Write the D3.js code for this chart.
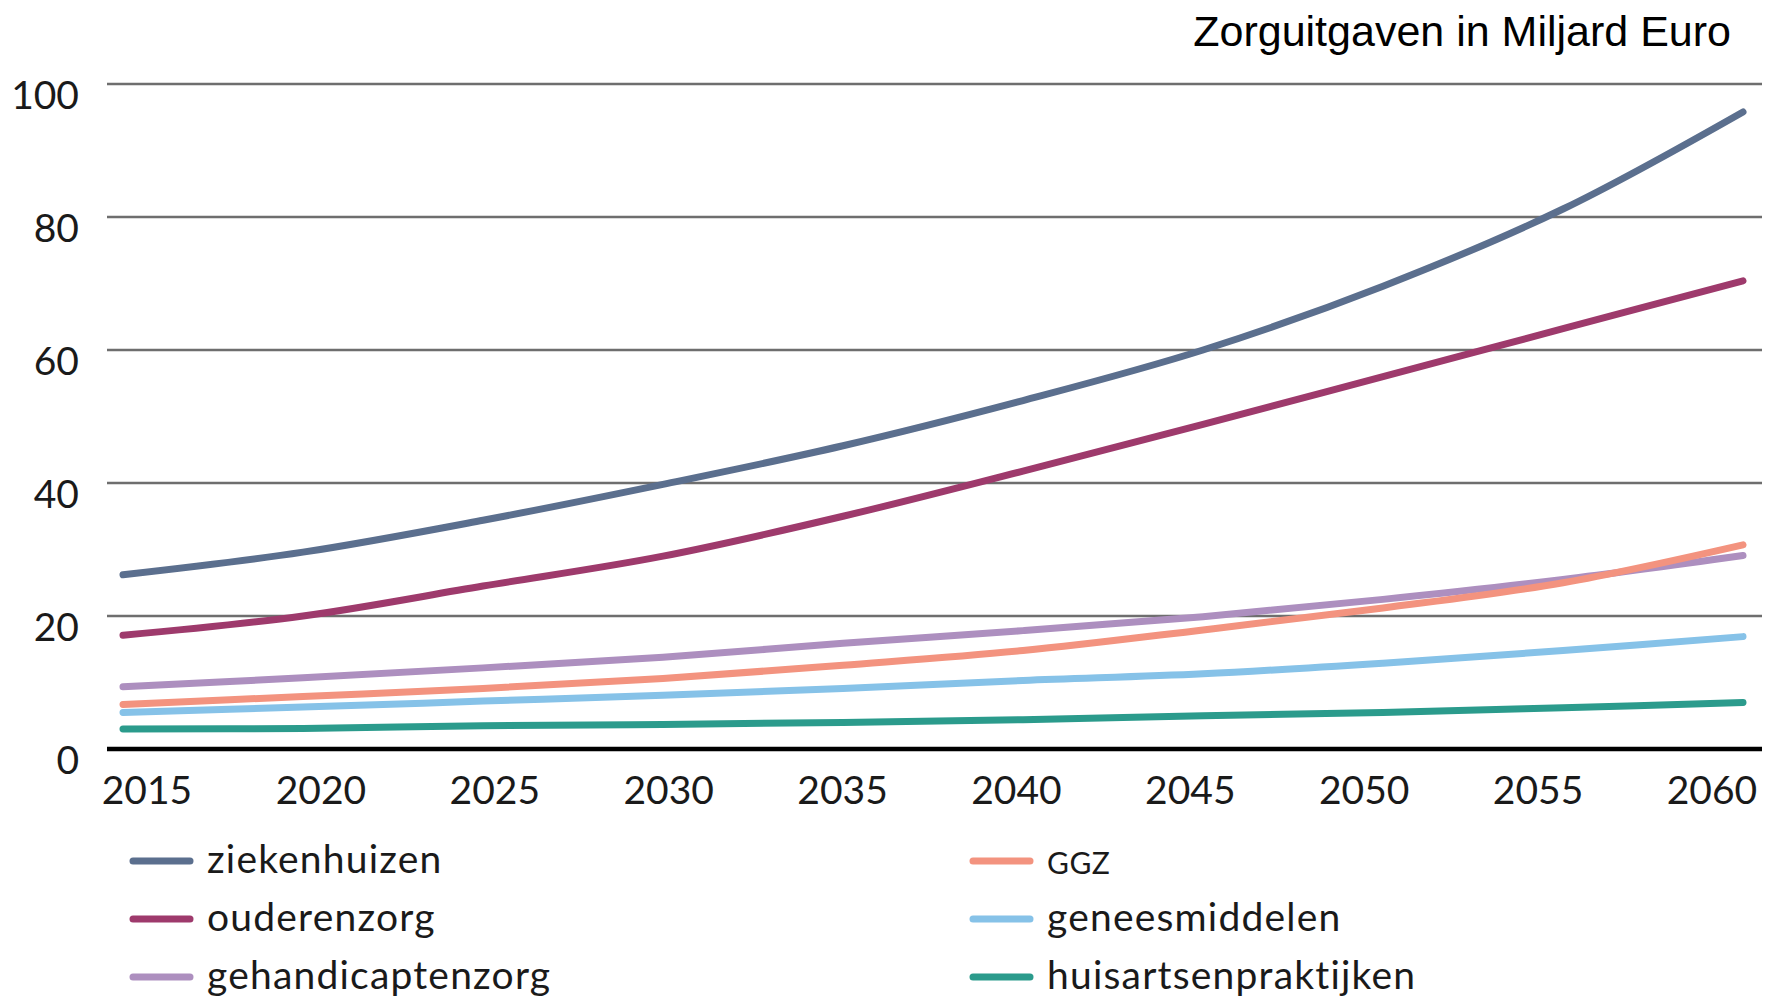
<!DOCTYPE html>
<html>
<head>
<meta charset="utf-8">
<script src="https://cdn.jsdelivr.net/npm/d3@7"></script>
<style>
  html, body { margin: 0; padding: 0; background: #fff; }
  svg { display: block; }
</style>
</head>
<body>
<svg id="chart" width="1766" height="1001"></svg>
<script>
// ---- data ----
const years = [2015, 2020, 2025, 2030, 2035, 2040, 2045, 2050, 2055, 2060];
const ziekenhuizen         = [26.2, 29.6, 34.4, 39.8, 45.6, 52.4, 60.0, 69.6, 81.2, 95.8];
const ouderenzorg          = [17.1, 20.0, 24.5, 29.0, 35.0, 41.8, 48.8, 56.0, 63.2, 70.4];
const gehandicaptenzorg    = [9.35, 10.7, 12.2, 13.8, 15.9, 17.8, 19.9, 22.5, 25.5, 29.1];
const ggz                  = [6.7, 7.9, 9.1, 10.6, 12.6, 14.8, 17.9, 21.2, 25.0, 30.7];
const geneesmiddelen       = [5.5, 6.3, 7.2, 8.1, 9.1, 10.3, 11.3, 12.9, 14.8, 16.9];
const huisartsenpraktijken = [3.0, 3.1, 3.5, 3.7, 4.0, 4.4, 5.0, 5.5, 6.2, 7.0];
const yTicks = [0, 20, 40, 60, 80, 100];
const title = "Zorguitgaven in Miljard Euro";

const seriesNames = ["ziekenhuizen", "ouderenzorg", "gehandicaptenzorg", "GGZ", "geneesmiddelen", "huisartsenpraktijken"];
const seriesValues = [ziekenhuizen, ouderenzorg, gehandicaptenzorg, ggz, geneesmiddelen, huisartsenpraktijken];
const seriesColors = ["#5b6f8e", "#9e3a6c", "#ad8fbf", "#f3937f", "#86c2e8", "#2b9b8c"];

const svg = d3.select("#chart");

const x = d3.scaleLinear().domain([2015, 2060]).range([123, 1743]);
const xLabel = d3.scalePoint().domain(years).range([147, 1712]);
const y = d3.scaleLinear().domain([0, 100]).range([749, 84]);

const FONT = "Lato, 'Open Sans', sans-serif";

// gridlines
svg.append("g").selectAll("line").data(yTicks.filter(d => d > 0)).join("line")
  .attr("x1", 107).attr("x2", 1762)
  .attr("y1", d => y(d)).attr("y2", d => y(d))
  .attr("stroke", "#6e6e6e").attr("stroke-width", 2.5);

// zero line
svg.append("line")
  .attr("x1", 107).attr("x2", 1762)
  .attr("y1", y(0)).attr("y2", y(0))
  .attr("stroke", "#000").attr("stroke-width", 4.5);

// y labels
svg.append("g").selectAll("text").data(yTicks).join("text")
  .attr("x", 79).attr("y", d => y(d) + 10)
  .attr("text-anchor", "end").attr("dominant-baseline", "central")
  .attr("font-family", FONT).attr("font-size", 39).attr("fill", "#1a1a1a")
  .text(d => d);

// x labels
svg.append("g").selectAll("text").data(years).join("text")
  .attr("x", d => xLabel(d)).attr("y", 804)
  .attr("text-anchor", "middle")
  .attr("font-family", FONT).attr("font-size", 39).attr("fill", "#1a1a1a")
  .text(d => d);

// lines
const line = d3.line()
  .x((d, i) => x(years[i]))
  .y(d => y(d))
  .curve(d3.curveCatmullRom.alpha(0.5));

const drawOrder = [5, 4, 2, 3, 1, 0];
svg.append("g").selectAll("path").data(drawOrder).join("path")
  .attr("d", i => line(seriesValues[i]))
  .attr("fill", "none")
  .attr("stroke", i => seriesColors[i])
  .attr("stroke-width", 7)
  .attr("stroke-linecap", "round")
  .attr("stroke-linejoin", "round");

// title
svg.append("text")
  .attr("x", 1731).attr("y", 46)
  .attr("text-anchor", "end")
  .attr("font-family", "'Liberation Sans Narrow', 'Arial Narrow', sans-serif")
  .attr("font-size", 43)
  .attr("fill", "#000")
  .text(title);

// legend
const legendX = [130, 970];
const legendRowY = [861, 919, 977];
const legend = svg.append("g");
seriesNames.forEach((name, i) => {
  const col = Math.floor(i / 3), row = i % 3;
  const lx = legendX[col], ly = legendRowY[row];
  legend.append("line")
    .attr("x1", lx + 3).attr("x2", lx + 60)
    .attr("y1", ly).attr("y2", ly)
    .attr("stroke", seriesColors[i]).attr("stroke-width", 7)
    .attr("stroke-linecap", "round");
  const isSmall = name === "GGZ";
  legend.append("text")
    .attr("x", lx + 77).attr("y", ly + (isSmall ? 13 : 12))
    .attr("font-family", FONT)
    .attr("font-size", isSmall ? 30 : 39)
    .attr("letter-spacing", isSmall ? 0.5 : 1.2)
    .attr("fill", "#1a1a1a")
    .text(name);
});
</script>
</body>
</html>
